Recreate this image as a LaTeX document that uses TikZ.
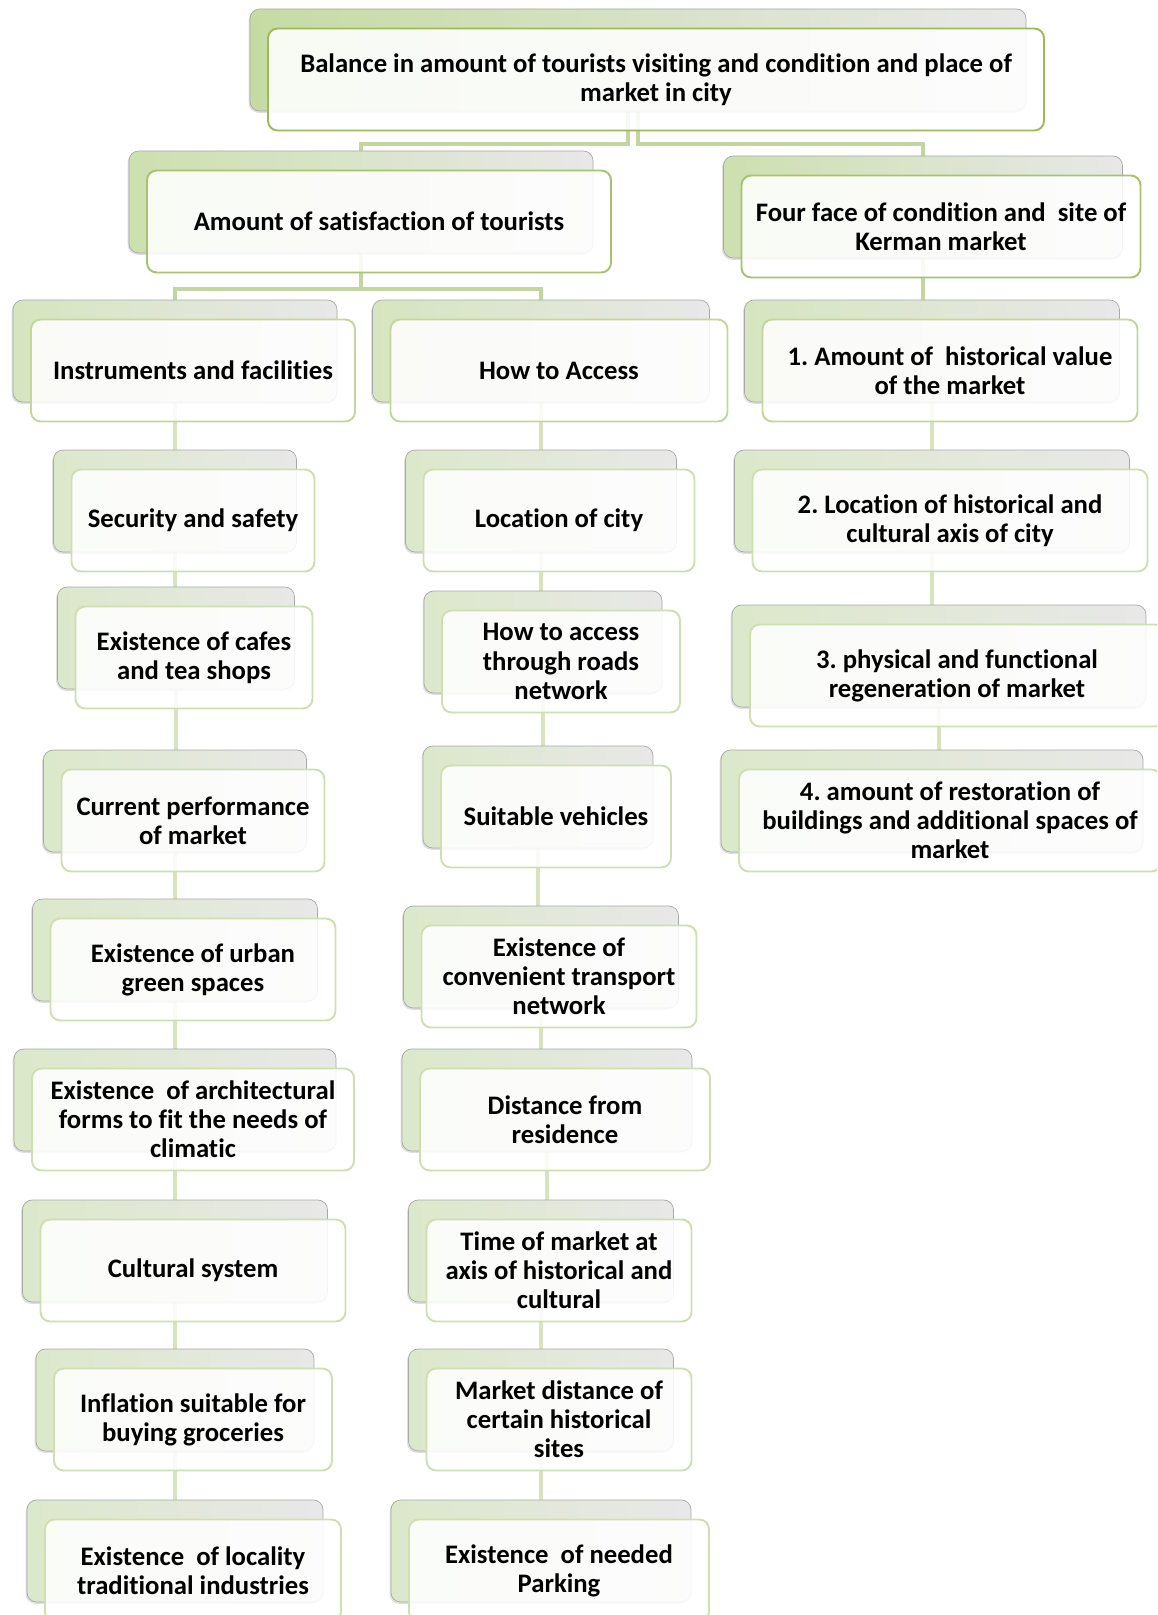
\documentclass[tikz,border=0pt]{standalone}
\usepackage{fontspec}
\setmainfont{Carlito}[Ligatures=CommonOff]
\usetikzlibrary{backgrounds, shadows}

\def\px{0.02cm}
% front border / back shade per level
\definecolor{border0}{HTML}{9BBB59}
\definecolor{border1}{HTML}{A6C370}
\definecolor{border2}{HTML}{C3D69B}
\definecolor{border3}{HTML}{CFDFB0}
\definecolor{shade0}{HTML}{C6DBA3}
\definecolor{shade1}{HTML}{CDE0AF}
\definecolor{shade2}{HTML}{D6E5BF}
\definecolor{shade3}{HTML}{DCE8CA}
\definecolor{backgray}{HTML}{E8E8E8}
\definecolor{backline}{HTML}{A8A8A8}
\definecolor{linkA}{HTML}{C4D6A0}
\definecolor{linkB}{HTML}{D7E4BD}

\tikzset{
  backbox/.style={draw=backline, line width=0.4pt, rounded corners=5.5pt,
    minimum height=102*\px, inner sep=0pt, right color=backgray,
    left color=shade#1,
    drop shadow={shadow xshift=-0.8pt, shadow yshift=-1pt, opacity=0.25}},
  frontbox/.style={draw=border#1, line width=1.1pt, rounded corners=5.5pt,
    fill=white, fill opacity=0.88, text opacity=1,
    minimum height=102*\px, inner sep=2pt, align=center},
  linkA/.style={draw=linkA, line width=0.08cm},
  linkB/.style={draw=linkB, line width=0.09cm},
}

% name, level, x, y, width, text
\newcommand{\facet}[6]{%
  \node[backbox=#2, minimum width=#5*\px] (#1b) at (#3-18,#4-18) {};
  \node[frontbox=#2, minimum width=#5*\px] (#1) at (#3,#4+1.5) {#6};
}

\begin{document}
\begin{tikzpicture}[x=0.02cm, y=-0.02cm,
    font=\fontsize{15.2}{16.6}\selectfont\bfseries\frenchspacing]
  \useasboundingbox (0,0) rectangle (1157,1615);
  \clip (0,0) rectangle (1157,1615);
  % root
  \facet{root}{0}{656}{78}{776}{Balance in amount of tourists visiting and condition and place of\\market in city}
  % first level
  \facet{sat}{1}{379}{220}{464}{Amount of satisfaction of tourists}
  \facet{four}{1}{941}{225}{399}{Four face of condition and~ site of\\Kerman market}
  % second level
  \facet{instr}{2}{193}{369}{324}{Instruments and facilities}
  \facet{access}{2}{559}{369}{337}{How to Access}
  \facet{hist}{2}{950}{369}{375}{1. Amount of~ historical value\\of the market}
  % instruments column
  \facet{sec}{3}{193}{519}{243}{Security and safety}
  \facet{cafes}{3}{194}{656}{237}{Existence of cafes\\and tea shops}
  \facet{perf}{3}{193}{819}{263}{Current performance\\of market}
  \facet{greensp}{3}{193}{968}{285}{Existence of urban\\green spaces}
  \facet{arch}{3}{193}{1118}{322}{Existence~ of architectural\\forms to fit the needs of\\climatic}
  \facet{cult}{3}{193}{1269}{305}{Cultural system}
  \facet{infl}{3}{193}{1418}{278}{Inflation suitable for\\buying groceries}
  \facet{ind}{3}{193}{1569}{296}{Existence~ of locality\\traditional industries}
  % access column
  \facet{loc}{3}{559}{519}{271}{Location of city}
  \facet{roads}{3}{561}{660}{238}{How to access\\through roads\\network}
  \facet{veh}{3}{556}{815}{230}{Suitable vehicles}
  \facet{trans}{3}{559}{975}{275}{Existence of\\convenient transport\\network}
  \facet{resid}{3}{565}{1118}{290}{Distance from\\residence}
  \facet{time}{3}{559}{1269}{265}{Time of market at\\axis of historical and\\cultural}
  \facet{sites}{3}{559}{1418}{265}{Market distance of\\certain historical\\sites}
  \facet{park}{3}{559}{1569}{300}{Existence~ of needed\\Parking}
  % condition column
  \facet{axis}{3}{950}{519}{395}{2. Location of historical and\\cultural axis of city}
  \facet{regen}{3}{957}{674}{414}{3. physical and functional\\regeneration of market}
  \facet{rest}{3}{950}{819}{422}{4. amount of restoration of\\buildings and additional spaces of\\market}
  % connectors
  \begin{scope}[on background layer]
    \draw[linkA] ([xshift=-0.2cm]rootb.center) -- ++(0,84) -| (satb);
    \draw[linkA] (rootb.center) -- ++(0,84) -| (fourb);
    \draw[linkA] (satb.center) -- ++(0,87) -| (instrb);
    \draw[linkA] (satb.center) -- ++(0,87) -| (accessb);
    \draw[linkA] (fourb) -- (fourb |- histb);
    \draw[linkB] (instrb) -- (instrb |- secb);
    \draw[linkB] (secb) -- (secb |- cafesb);
    \draw[linkB] (cafesb) -- (cafesb |- perfb);
    \draw[linkB] (perfb) -- (perfb |- greenspb);
    \draw[linkB] (greenspb) -- (greenspb |- archb);
    \draw[linkB] (archb) -- (archb |- cultb);
    \draw[linkB] (cultb) -- (cultb |- inflb);
    \draw[linkB] (inflb) -- (inflb |- indb);
    \draw[linkB] (accessb) -- (accessb |- locb);
    \draw[linkB] (locb) -- (locb |- roadsb);
    \draw[linkB] (roadsb) -- (roadsb |- vehb);
    \draw[linkB] (vehb) -- (vehb |- transb);
    \draw[linkB] (transb) -- (transb |- residb);
    \draw[linkB] (residb) -- (residb |- timeb);
    \draw[linkB] (timeb) -- (timeb |- sitesb);
    \draw[linkB] (sitesb) -- (sitesb |- parkb);
    \draw[linkB] (histb) -- (histb |- axisb);
    \draw[linkB] (axisb) -- (axisb |- regenb);
    \draw[linkB] (regenb) -- (regenb |- restb);
  \end{scope}
\end{tikzpicture}
\end{document}
